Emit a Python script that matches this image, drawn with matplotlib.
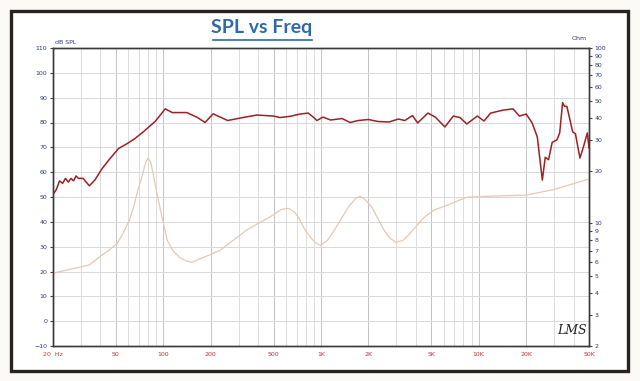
import matplotlib
matplotlib.use("Agg")
import matplotlib.pyplot as plt
import matplotlib.ticker as plticker
from matplotlib.patches import Rectangle
from matplotlib.lines import Line2D

# SPL curve (Hz, dB)
spl_freq = [20, 21, 22, 23, 24, 25, 26, 27, 28, 29, 31, 34, 37, 41, 46, 52, 59, 66, 74,
            89, 103, 114, 141, 165, 184, 207, 256, 320, 392, 500, 550, 640, 734, 830,
            900, 942, 1030, 1150, 1360, 1530, 1720, 2000, 2300, 2700, 3100, 3400, 3800,
            4100, 4760, 5300, 6100, 6900, 7600, 8400, 9800, 10800, 11900, 14300, 16500,
            17300, 18100, 20000, 21800, 23500, 25300, 26400, 27700, 29200, 31300, 32600,
            34000, 35000, 36200, 39400, 41000, 43800, 46000, 48800, 50000]
spl_db = [51, 53, 56.5, 55.5, 57.5, 56, 57.5, 56.5, 58.5, 57.5, 57.5, 54.5, 57, 61.5,
          65.5, 69.5, 71.5, 73.5, 76, 80.5, 85.5, 84, 84, 82, 80, 83.5, 80.8, 82, 83,
          82.6, 82, 82.5, 83.4, 83.8, 82, 80.8, 82.2, 81, 81.6, 80, 80.8, 81.2, 80.4,
          80.2, 81.4, 80.8, 82.8, 79.8, 83.8, 82.2, 78.2, 82.6, 82, 79.4, 82.6, 80.6,
          83.8, 85, 85.5, 84, 82.6, 83.4, 79.8, 74.2, 56.8, 66, 65, 72, 73, 75.8, 88,
          86.5, 86.5, 76.2, 75.5, 65.7, 70, 75.8, 69.7]

# impedance curve (Hz, Ohm)
imp_freq = [20, 34, 40, 45, 51, 55, 61, 65, 69, 72, 75, 77, 80, 83, 86, 89, 93, 99,
            106, 115, 127, 140, 152, 228, 340, 400, 450, 500, 560, 620, 680, 730, 790,
            870, 930, 1000, 1100, 1200, 1350, 1500, 1650, 1770, 1900, 2100, 2300, 2500,
            2750, 3000, 3300, 3600, 4000, 4500, 5200, 6300, 8400, 12000, 20000, 30000,
            50000]
imp_ohm = [5.2, 5.8, 6.5, 7.0, 7.7, 8.6, 10.4, 12.5, 15.5, 17.5, 20, 22, 23.6, 22.5,
           19.5, 16.5, 13.6, 10.5, 8.0, 7.0, 6.4, 6.1, 6.0, 7.0, 9.2, 10.0, 10.6, 11.2,
           12.0, 12.2, 11.6, 10.6, 9.2, 8.2, 7.7, 7.5, 8.0, 9.0, 10.7, 12.5, 13.8, 14.3,
           13.7, 12.4, 10.6, 9.2, 8.2, 7.8, 8.0, 8.6, 9.6, 10.8, 11.9, 12.7, 14.1, 14.3,
           14.5, 15.6, 17.9]

x_ticks = [20, 50, 100, 200, 500, 1000, 2000, 5000, 10000, 20000, 50000]
x_labels = ["20  Hz", "50", "100", "200", "500", "1K", "2K", "5K", "10K", "20K", "50K"]
ohm_ticks = [2, 3, 4, 5, 6, 7, 8, 9, 10, 20, 30, 40, 50, 60, 70, 80, 90, 100]

navy = "#2e3a78"
red_lbl = "#c8323c"

fig = plt.figure(figsize=(6.4, 3.81), dpi=100, facecolor="#fbfaf7")

# dark photo frame around the print
fig.patches.append(Rectangle((11 / 640, 1 - 371 / 381), 617 / 640, 360 / 381,
                             transform=fig.transFigure, fill=True, facecolor="white",
                             edgecolor="#2a2220", linewidth=2.4, zorder=-5))

ax = fig.add_axes([53 / 640, 1 - 346 / 381, 536 / 640, 298 / 381])
ax.set_facecolor("white")
ax.set_xscale("log")
ax.set_xlim(20, 50000)
ax.set_ylim(-10, 110)

# grid: every 10 dB, and 1-2-...-9 per decade
ax.yaxis.set_major_locator(plticker.MultipleLocator(10))
ax.grid(axis="y", color="#d9d9d9", linewidth=0.7)
for dec in [10, 100, 1000, 10000]:
    for m in range(1, 10):
        f = dec * m
        if 20 < f < 50000:
            c = "#c4c4c4" if f in x_ticks else "#dcdcdc"
            ax.axvline(f, color=c, linewidth=0.7, zorder=0)

ax.plot(spl_freq, spl_db, color="#9a2226", linewidth=1.1, zorder=3)

ax.set_xticks(x_ticks)
ax.set_xticklabels(x_labels)
ax.xaxis.set_minor_locator(plticker.NullLocator())
ax.tick_params(axis="x", length=0, labelsize=4.5, labelcolor=red_lbl, pad=4)
ax.tick_params(axis="y", length=2, labelsize=4.5, labelcolor=navy, pad=2, color="#444")
for s in ax.spines.values():
    s.set_color("#3a3a3a")
    s.set_linewidth(1.0)

ax2 = ax.twinx()
ax2.set_yscale("log")
ax2.set_ylim(2, 100)
ax2.plot(imp_freq, imp_ohm, color="#e4c9b8", linewidth=0.9, zorder=2)
ax2.yaxis.set_major_locator(plticker.FixedLocator(ohm_ticks))
ax2.yaxis.set_major_formatter(plticker.FixedFormatter([str(t) for t in ohm_ticks]))
ax2.yaxis.set_minor_locator(plticker.NullLocator())
ax2.tick_params(axis="y", length=2, labelsize=4.5, labelcolor=navy, pad=2, color="#444")
for s in ax2.spines.values():
    s.set_color("#3a3a3a")
    s.set_linewidth(1.0)

fig.text(55 / 640, 1 - 43 / 381, "dB SPL", fontsize=4.5, color=navy, va="center")
fig.text(587 / 640, 1 - 39 / 381, "Ohm", fontsize=4.5, color=navy, va="center", ha="right")

# title with underline
fig.text(262 / 640, 1 - 28 / 381, "SPL vs Freq", fontsize=14, color="#2f6aa6",
         ha="center", va="center", family="Lato", fontweight="bold")
fig.add_artist(Line2D([213 / 640, 312 / 640], [1 - 40 / 381, 1 - 40 / 381],
                      transform=fig.transFigure, color="#2f6aa6", linewidth=1.2))

fig.text(572 / 640, 1 - 331 / 381, "LMS", fontsize=9, color="#222", ha="center",
         va="center", style="italic", family="DejaVu Serif")

fig.savefig("out.png", dpi=100, facecolor=fig.get_facecolor())
